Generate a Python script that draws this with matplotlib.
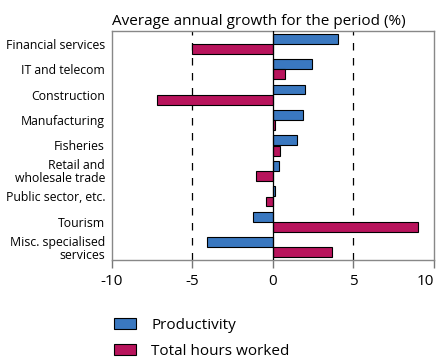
import matplotlib.pyplot as plt
import numpy as np

plt.rcParams['font.family'] = ['Open Sans', 'DejaVu Sans']

categories = ['Financial services', 'IT and telecom', 'Construction', 'Manufacturing',
              'Fisheries', 'Retail and\nwholesale trade', 'Public sector, etc.',
              'Tourism', 'Misc. specialised\nservices']
productivity = [4.05, 2.45, 2.0, 1.9, 1.5, 0.4, 0.1, -1.25, -4.1]
hours_worked = [-5.05, 0.75, -7.2, 0.12, 0.45, -1.05, -0.45, 9.0, 3.7]
xticks = [-10, -5, 0, 5, 10]

blue = '#3a78c0'
magenta = '#b8145c'

fig = plt.figure(figsize=(4.4, 3.6), dpi=100)
ax = fig.add_axes([0.2545, 0.2778, 0.7315, 0.6361])

y = np.arange(len(categories))
h = 0.39
ax.barh(y - 0.2, productivity, height=h, color=blue, edgecolor='black', linewidth=0.8,
        label='Productivity', zorder=3)
ax.barh(y + 0.2, hours_worked, height=h, color=magenta, edgecolor='black', linewidth=0.8,
        label='Total hours worked', zorder=3)

ax.axvline(0, color='black', linewidth=0.9, zorder=4)
for xv in (-5, 5):
    ax.axvline(xv, color='black', linewidth=0.9, linestyle=(0, (6, 6)), zorder=1)

ax.set_xlim(-10, 10)
ax.set_ylim(len(categories) - 0.5, -0.5)
ax.set_xticks(xticks)
ax.set_xticklabels([str(t) for t in xticks], fontsize=11)
ax.get_xticklabels()[-1].set_ha('right')
ax.set_yticks(y)
ax.set_yticklabels(categories, fontsize=8.8, linespacing=1.0)
ax.tick_params(axis='y', length=0, pad=5)
ax.tick_params(axis='x', length=6, width=1, color='#777777', direction='out', pad=4)
for s in ax.spines.values():
    s.set_color('#888888')
    s.set_linewidth(1)

ax.set_title('Average annual growth for the period (%)', fontsize=11, pad=4, loc='left')

fig.legend(loc='upper left', bbox_to_anchor=(0.246, 0.135), frameon=False,
           fontsize=11, handlelength=1.4, handleheight=0.75, handletextpad=1.0,
           labelspacing=0.75, borderaxespad=0)

fig.savefig('out.png', dpi=100)
